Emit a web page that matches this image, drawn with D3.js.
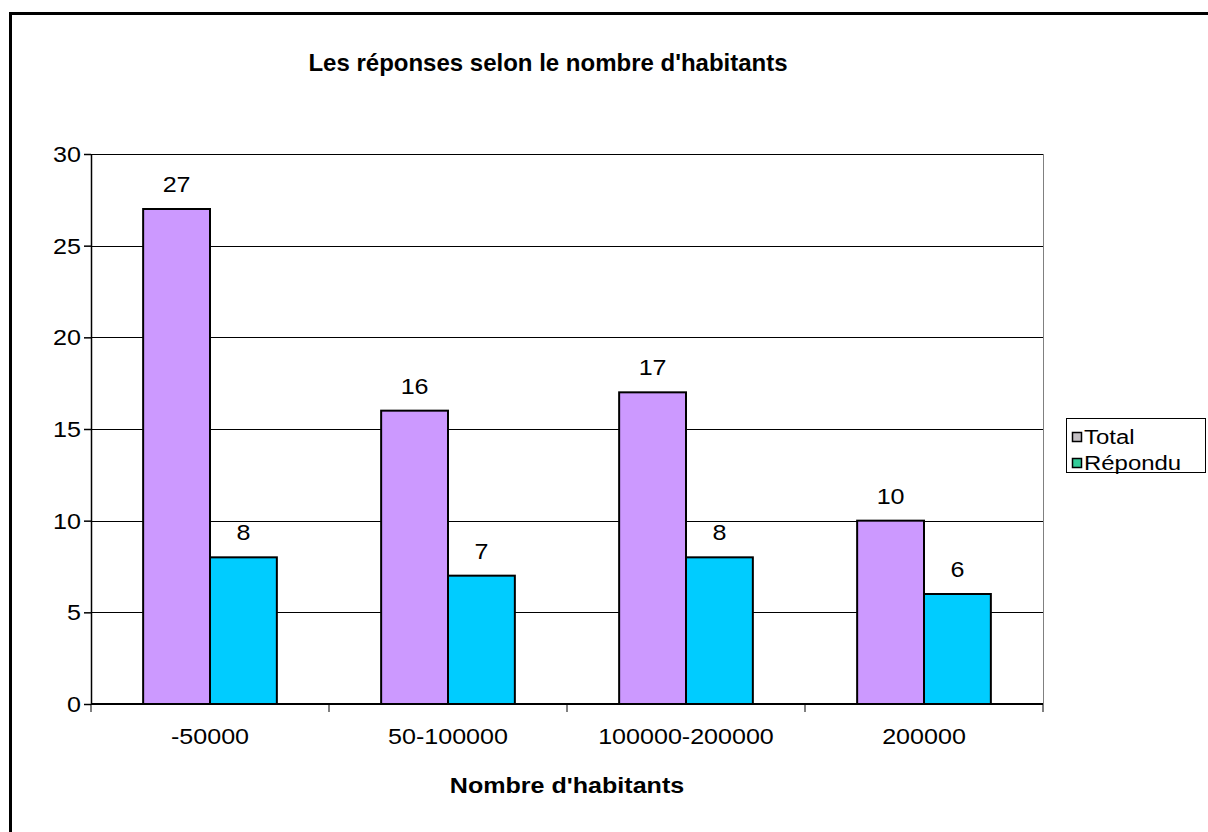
<!DOCTYPE html>
<html>
<head>
<meta charset="utf-8">
<script src="https://cdn.jsdelivr.net/npm/d3@7"></script>
<style>
  body { margin: 0; background: #fff; }
  text { font-family: "Liberation Sans", Arial, sans-serif; fill: #000; }
</style>
</head>
<body>
<div id="chart"></div>
<script>
const categories = ["-50000", "50-100000", "100000-200000", "200000"];
const seriesNames = ["Total", "Répondu"];
const totalValues = [27, 16, 17, 10];
const repondu = [8, 7, 8, 6];
const yTicks = [0, 5, 10, 15, 20, 25, 30];

const barColors = ["#cc99ff", "#00ccff"];
const legendColors = ["#c4c0c4", "#33cc99"];

const margin = {top: 154, right: 165, bottom: 128, left: 91},
  width = 1208 - margin.left - margin.right,
  height = 832 - margin.top - margin.bottom;

// the original text is a bit wider than it is tall
const sx = 1.14;
const place = (x, y) => `translate(${x},${y}) scale(${sx},1)`;

const root = d3.select("#chart")
  .append("svg")
  .attr("width", 1208)
  .attr("height", 832);

// outer frame
root.append("rect")
  .attr("x", 10.5).attr("y", 13.5)
  .attr("width", 1300).attr("height", 1000)
  .attr("fill", "#fff")
  .attr("stroke", "#000")
  .attr("stroke-width", 3);

root.append("text")
  .attr("x", 548).attr("y", 71)
  .attr("text-anchor", "middle")
  .style("font-size", "24px")
  .style("font-weight", "bold")
  .text("Les réponses selon le nombre d'habitants");

const svg = root.append("g")
  .attr("transform", `translate(${margin.left},${margin.top})`);

const data = categories.map((c, i) => ({cat: c, values: [totalValues[i], repondu[i]]}));

const x0 = d3.scaleBand().domain(categories).range([0, width]).padding(0);
const x1 = d3.scaleBand().domain(seriesNames).range([0, x0.bandwidth()])
  .paddingInner(0).paddingOuter(0.78);
const y = d3.scaleLinear().domain([0, 30]).range([height, 0]);

// gridlines
svg.append("g")
  .selectAll("line")
  .data(yTicks.filter(d => d > 0))
  .enter()
  .append("line")
  .attr("x1", 0).attr("x2", width)
  .attr("y1", d => Math.round(y(d)) + 0.5)
  .attr("y2", d => Math.round(y(d)) + 0.5)
  .attr("stroke", "#000")
  .attr("stroke-width", 1);

// right border of plot area
svg.append("line")
  .attr("x1", width + 0.5).attr("x2", width + 0.5)
  .attr("y1", 0).attr("y2", height)
  .attr("stroke", "#808080");

const groups = svg.selectAll(".grp")
  .data(data)
  .enter()
  .append("g")
  .attr("class", "grp")
  .attr("transform", d => `translate(${x0(d.cat)},0)`);

groups.selectAll("rect")
  .data(d => d.values.map((v, i) => ({s: seriesNames[i], v, i})))
  .enter()
  .append("rect")
  .attr("x", d => x1(d.s))
  .attr("y", d => y(d.v))
  .attr("width", x1.bandwidth())
  .attr("height", d => height - y(d.v))
  .attr("fill", d => barColors[d.i])
  .attr("stroke", "#000")
  .attr("stroke-width", 2);

groups.selectAll(".lbl")
  .data(d => d.values.map((v, i) => ({s: seriesNames[i], v, i})))
  .enter()
  .append("text")
  .attr("class", "lbl")
  .attr("transform", d => place(x1(d.s) + x1.bandwidth() / 2, y(d.v) - 17))
  .attr("text-anchor", "middle")
  .style("font-size", "22px")
  .text(d => d.v);

// y axis
const yAxis = svg.append("g")
  .call(d3.axisLeft(y).tickValues(yTicks).tickSize(7).tickSizeOuter(0).tickFormat(""));
yAxis.selectAll("line, path").attr("stroke", "#000").attr("stroke-width", 1.5);
svg.append("g")
  .selectAll("text")
  .data(yTicks)
  .enter()
  .append("text")
  .attr("transform", d => place(-10, y(d) + 8))
  .attr("text-anchor", "end")
  .style("font-size", "22px")
  .text(d => d);

// x axis
const xTickPos = d3.range(categories.length + 1).map(i => i * x0.step());
const xAxis = svg.append("g")
  .attr("transform", `translate(0,${height})`);
xAxis.append("line")
  .attr("x1", 0).attr("x2", width)
  .attr("stroke", "#000").attr("stroke-width", 2);
xAxis.selectAll(".tk")
  .data(xTickPos)
  .enter()
  .append("line")
  .attr("x1", d => d).attr("x2", d => d)
  .attr("y1", 0).attr("y2", 8)
  .attr("stroke", "#000");
xAxis.selectAll(".xl")
  .data(categories)
  .enter()
  .append("text")
  .attr("transform", d => place(x0(d) + x0.bandwidth() / 2, 40))
  .attr("text-anchor", "middle")
  .style("font-size", "22px")
  .text(d => d);

svg.append("text")
  .attr("transform", place(width / 2, height + 89))
  .attr("text-anchor", "middle")
  .style("font-size", "22px")
  .style("font-weight", "bold")
  .text("Nombre d'habitants");

// legend
const lg = root.append("g").attr("transform", "translate(1066,418)");
lg.append("rect")
  .attr("x", 0.5).attr("y", 0.5)
  .attr("width", 139).attr("height", 54)
  .attr("fill", "#fff")
  .attr("stroke", "#000");
seriesNames.forEach((s, i) => {
  lg.append("rect")
    .attr("x", 6.5).attr("y", 14.5 + i * 26)
    .attr("width", 9).attr("height", 9)
    .attr("fill", legendColors[i])
    .attr("stroke", "#000")
    .attr("stroke-width", 1.5);
  lg.append("text")
    .attr("transform", place(18, 26 + i * 26))
    .style("font-size", "21px")
    .text(s);
});
</script>
</body>
</html>
